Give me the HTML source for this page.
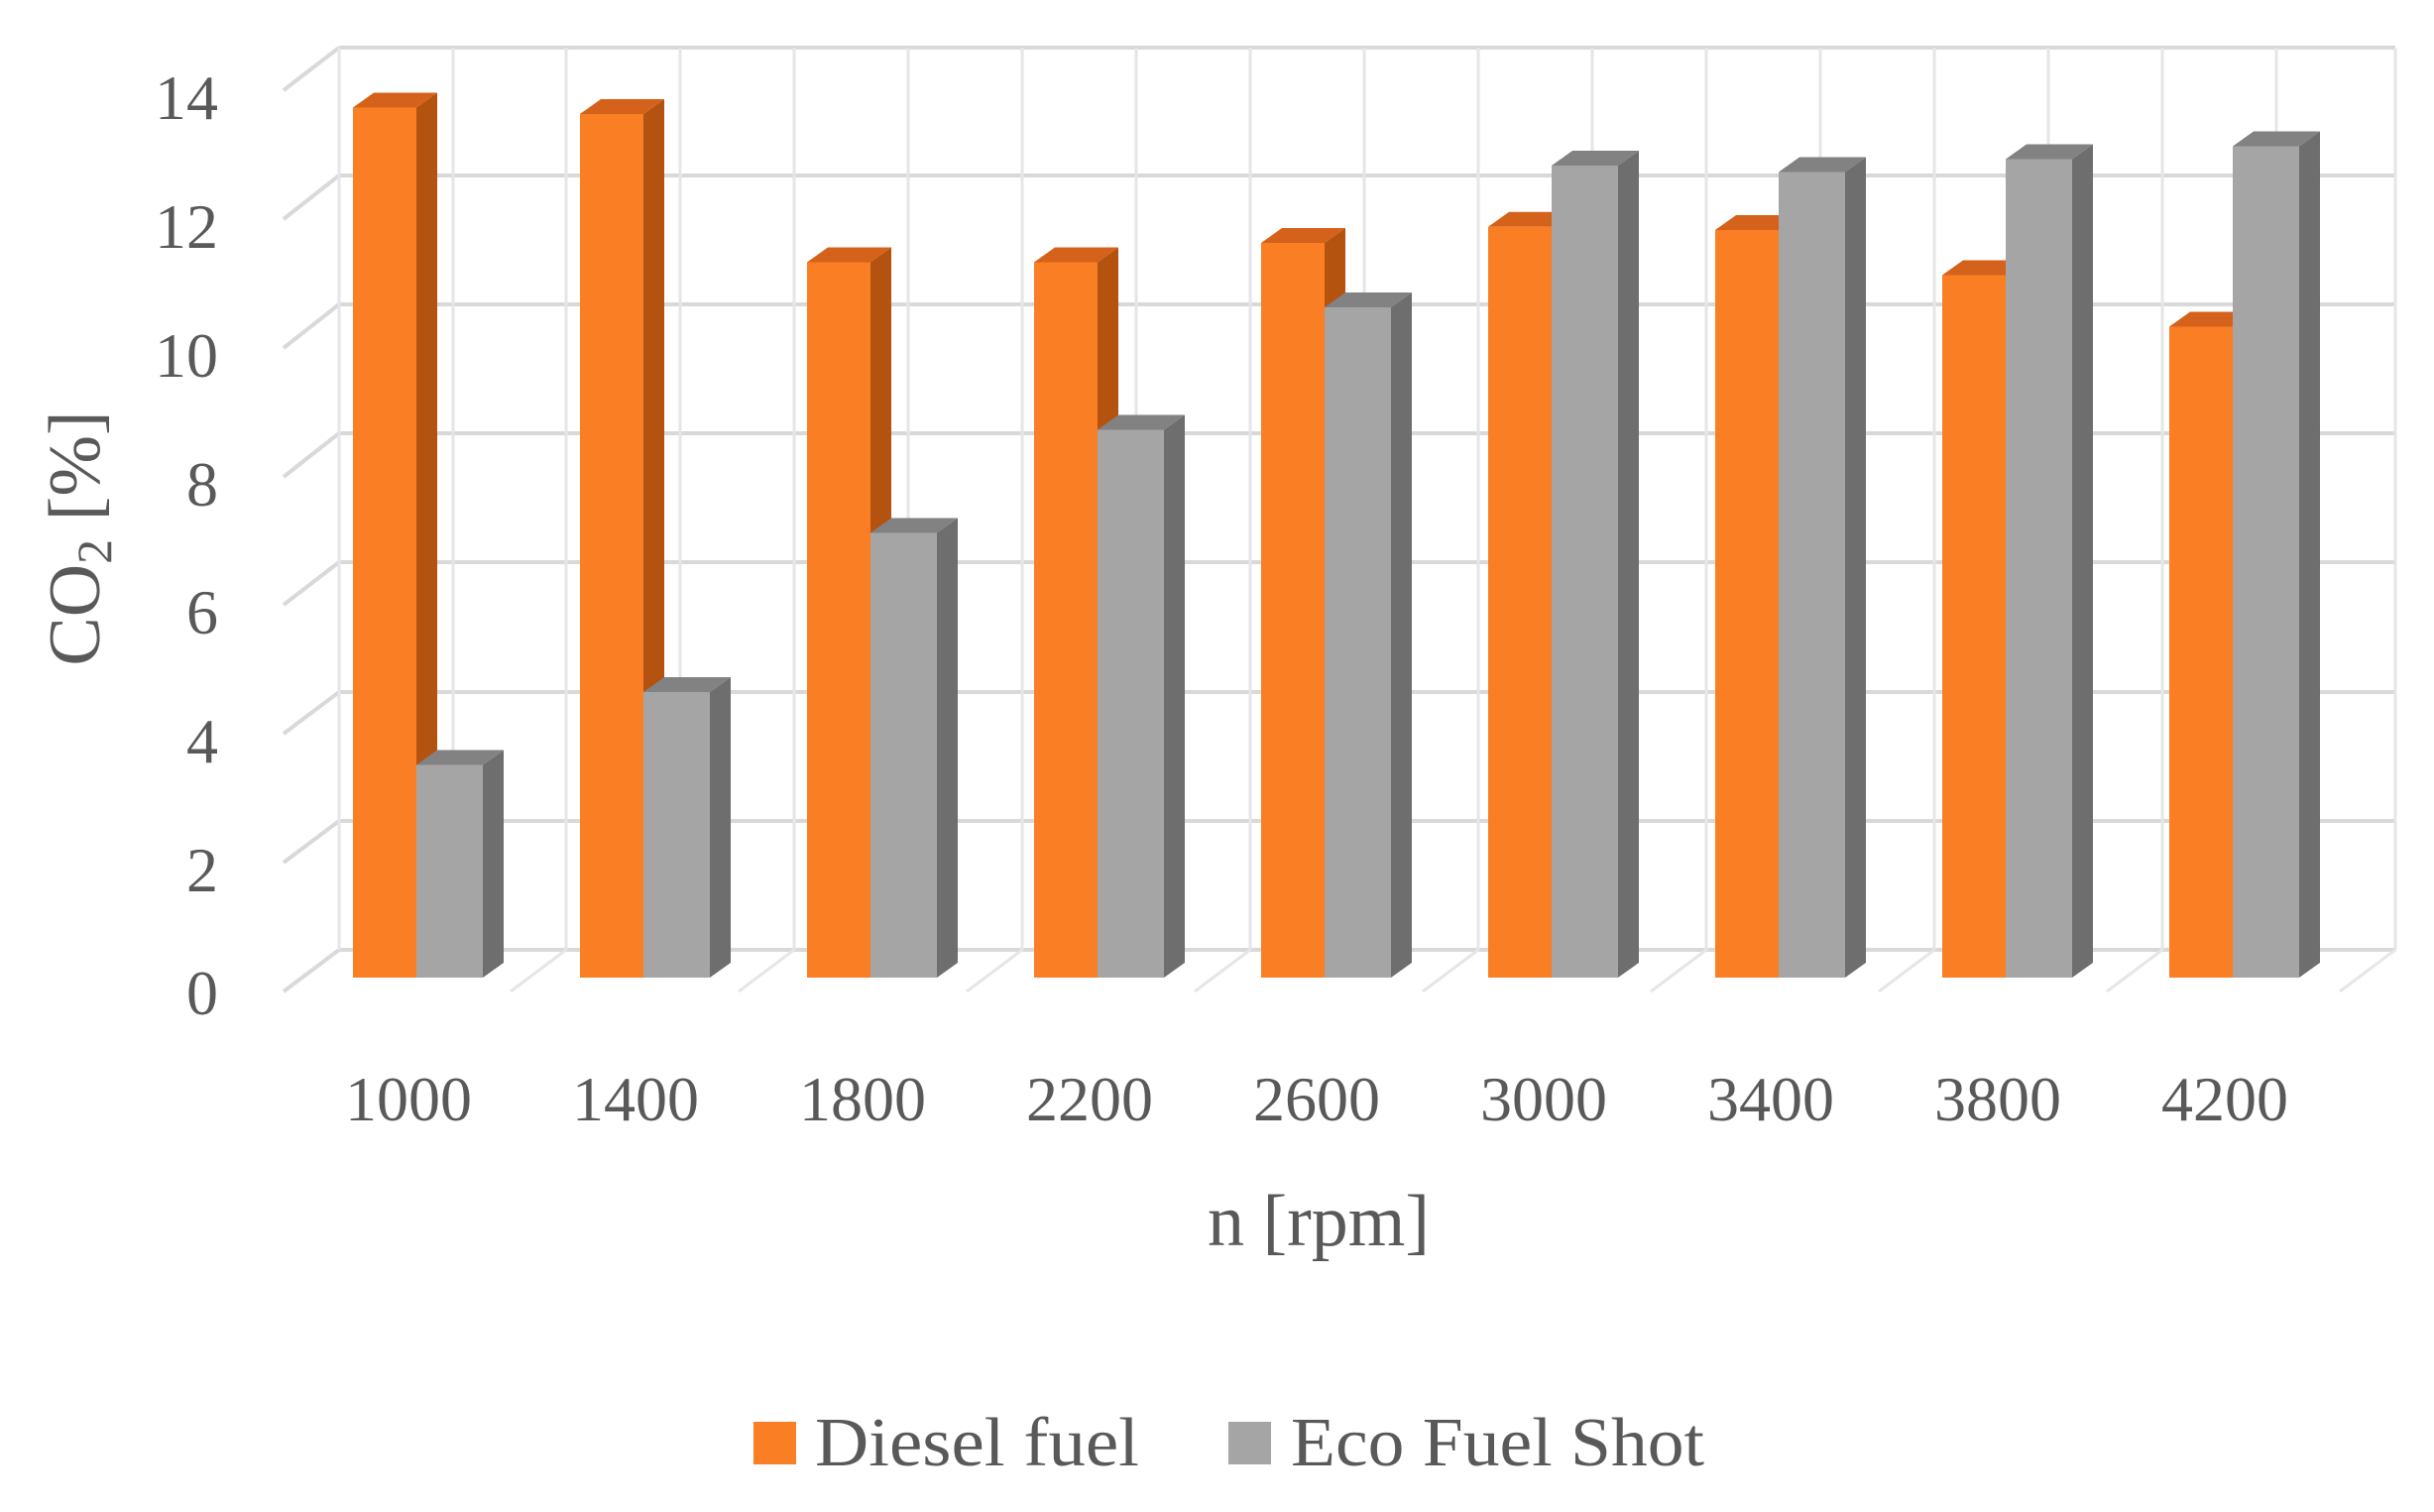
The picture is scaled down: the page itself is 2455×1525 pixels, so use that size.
<!DOCTYPE html>
<html><head><meta charset="utf-8"><style>html,body{margin:0;padding:0;background:#fff}</style></head>
<body>
<svg width="2455" height="1520" viewBox="0 0 2455 1520" xmlns="http://www.w3.org/2000/svg">
<rect width="2455" height="1520" fill="#fff"/>
<g stroke="#D9D9D9" stroke-width="4" fill="none">
<line x1="342" y1="48" x2="2416" y2="48"/>
<line x1="342" y1="177" x2="2416" y2="177"/>
<line x1="342" y1="307" x2="2416" y2="307"/>
<line x1="342" y1="437" x2="2416" y2="437"/>
<line x1="342" y1="567" x2="2416" y2="567"/>
<line x1="342" y1="698" x2="2416" y2="698"/>
<line x1="342" y1="828" x2="2416" y2="828"/>
<line x1="342" y1="958" x2="2416" y2="958"/>
<line x1="286" y1="91" x2="342" y2="48"/>
<line x1="286" y1="221" x2="342" y2="177"/>
<line x1="286" y1="351" x2="342" y2="307"/>
<line x1="286" y1="481" x2="342" y2="437"/>
<line x1="286" y1="610" x2="342" y2="567"/>
<line x1="286" y1="740" x2="342" y2="698"/>
<line x1="286" y1="870" x2="342" y2="828"/>
<line x1="286" y1="1000" x2="342" y2="958"/>
</g>
<g stroke="#E6E6E6" stroke-width="3" fill="none">
<line x1="342" y1="48" x2="342" y2="958"/>
<line x1="457" y1="48" x2="457" y2="958"/>
<line x1="571" y1="48" x2="571" y2="958"/>
<line x1="686" y1="48" x2="686" y2="958"/>
<line x1="801" y1="48" x2="801" y2="958"/>
<line x1="916" y1="48" x2="916" y2="958"/>
<line x1="1031" y1="48" x2="1031" y2="958"/>
<line x1="1146" y1="48" x2="1146" y2="958"/>
<line x1="1261" y1="48" x2="1261" y2="958"/>
<line x1="1376" y1="48" x2="1376" y2="958"/>
<line x1="1491" y1="48" x2="1491" y2="958"/>
<line x1="1606" y1="48" x2="1606" y2="958"/>
<line x1="1721" y1="48" x2="1721" y2="958"/>
<line x1="1836" y1="48" x2="1836" y2="958"/>
<line x1="1951" y1="48" x2="1951" y2="958"/>
<line x1="2066" y1="48" x2="2066" y2="958"/>
<line x1="2181" y1="48" x2="2181" y2="958"/>
<line x1="2296" y1="48" x2="2296" y2="958"/>
<line x1="2416" y1="48" x2="2416" y2="958"/>
<line x1="571" y1="958" x2="515" y2="1000"/>
<line x1="801" y1="958" x2="745" y2="1000"/>
<line x1="1031" y1="958" x2="975" y2="1000"/>
<line x1="1261" y1="958" x2="1205" y2="1000"/>
<line x1="1491" y1="958" x2="1435" y2="1000"/>
<line x1="1721" y1="958" x2="1665" y2="1000"/>
<line x1="1951" y1="958" x2="1895" y2="1000"/>
<line x1="2181" y1="958" x2="2125" y2="1000"/>
<line x1="2416" y1="958" x2="2360" y2="1000"/>
</g>

<g transform="translate(356,0)">
<polygon points="64,108.5 85,93.5 85,971 64,986" fill="#B4520F"/><polygon points="0,108.5 21,93.5 85,93.5 64,108.5" fill="#D5621A"/><rect x="0" y="108.5" width="64" height="877.5" fill="#F97E24"/>
<polygon points="131,771.5 152,756.5 152,971 131,986" fill="#6E6E6E"/><polygon points="64,771.5 85,756.5 152,756.5 131,771.5" fill="#828282"/><rect x="64" y="771.5" width="67" height="214.5" fill="#A5A5A5"/>
</g>
<g transform="translate(585,0)">
<polygon points="64,115 85,100 85,971 64,986" fill="#B4520F"/><polygon points="0,115 21,100 85,100 64,115" fill="#D5621A"/><rect x="0" y="115" width="64" height="871" fill="#F97E24"/>
<polygon points="131,698 152,683 152,971 131,986" fill="#6E6E6E"/><polygon points="64,698 85,683 152,683 131,698" fill="#828282"/><rect x="64" y="698" width="67" height="288" fill="#A5A5A5"/>
</g>
<g transform="translate(814,0)">
<polygon points="64,264.5 85,249.5 85,971 64,986" fill="#B4520F"/><polygon points="0,264.5 21,249.5 85,249.5 64,264.5" fill="#D5621A"/><rect x="0" y="264.5" width="64" height="721.5" fill="#F97E24"/>
<polygon points="131,537.5 152,522.5 152,971 131,986" fill="#6E6E6E"/><polygon points="64,537.5 85,522.5 152,522.5 131,537.5" fill="#828282"/><rect x="64" y="537.5" width="67" height="448.5" fill="#A5A5A5"/>
</g>
<g transform="translate(1043,0)">
<polygon points="64,264.5 85,249.5 85,971 64,986" fill="#B4520F"/><polygon points="0,264.5 21,249.5 85,249.5 64,264.5" fill="#D5621A"/><rect x="0" y="264.5" width="64" height="721.5" fill="#F97E24"/>
<polygon points="131,433.5 152,418.5 152,971 131,986" fill="#6E6E6E"/><polygon points="64,433.5 85,418.5 152,418.5 131,433.5" fill="#828282"/><rect x="64" y="433.5" width="67" height="552.5" fill="#A5A5A5"/>
</g>
<g transform="translate(1272,0)">
<polygon points="64,245 85,230 85,971 64,986" fill="#B4520F"/><polygon points="0,245 21,230 85,230 64,245" fill="#D5621A"/><rect x="0" y="245" width="64" height="741" fill="#F97E24"/>
<polygon points="131,310 152,295 152,971 131,986" fill="#6E6E6E"/><polygon points="64,310 85,295 152,295 131,310" fill="#828282"/><rect x="64" y="310" width="67" height="676" fill="#A5A5A5"/>
</g>
<g transform="translate(1501,0)">
<polygon points="64,228.75 85,213.75 85,971 64,986" fill="#B4520F"/><polygon points="0,228.75 21,213.75 85,213.75 64,228.75" fill="#D5621A"/><rect x="0" y="228.75" width="64" height="757.25" fill="#F97E24"/>
<polygon points="131,167 152,152 152,971 131,986" fill="#6E6E6E"/><polygon points="64,167 85,152 152,152 131,167" fill="#828282"/><rect x="64" y="167" width="67" height="819" fill="#A5A5A5"/>
</g>
<g transform="translate(1730,0)">
<polygon points="64,232 85,217 85,971 64,986" fill="#B4520F"/><polygon points="0,232 21,217 85,217 64,232" fill="#D5621A"/><rect x="0" y="232" width="64" height="754" fill="#F97E24"/>
<polygon points="131,173.5 152,158.5 152,971 131,986" fill="#6E6E6E"/><polygon points="64,173.5 85,158.5 152,158.5 131,173.5" fill="#828282"/><rect x="64" y="173.5" width="67" height="812.5" fill="#A5A5A5"/>
</g>
<g transform="translate(1959,0)">
<polygon points="64,277.5 85,262.5 85,971 64,986" fill="#B4520F"/><polygon points="0,277.5 21,262.5 85,262.5 64,277.5" fill="#D5621A"/><rect x="0" y="277.5" width="64" height="708.5" fill="#F97E24"/>
<polygon points="131,160.5 152,145.5 152,971 131,986" fill="#6E6E6E"/><polygon points="64,160.5 85,145.5 152,145.5 131,160.5" fill="#828282"/><rect x="64" y="160.5" width="67" height="825.5" fill="#A5A5A5"/>
</g>
<g transform="translate(2188,0)">
<polygon points="64,329.5 85,314.5 85,971 64,986" fill="#B4520F"/><polygon points="0,329.5 21,314.5 85,314.5 64,329.5" fill="#D5621A"/><rect x="0" y="329.5" width="64" height="656.5" fill="#F97E24"/>
<polygon points="131,147.5 152,132.5 152,971 131,986" fill="#6E6E6E"/><polygon points="64,147.5 85,132.5 152,132.5 131,147.5" fill="#828282"/><rect x="64" y="147.5" width="67" height="838.5" fill="#A5A5A5"/>
</g>

<g font-family="'Liberation Serif', serif" fill="#595959" font-size="64" text-anchor="end">
<text x="220" y="120">14</text>
<text x="220" y="250">12</text>
<text x="220" y="380">10</text>
<text x="220" y="510">8</text>
<text x="220" y="639">6</text>
<text x="220" y="769">4</text>
<text x="220" y="899">2</text>
<text x="220" y="1023">0</text>
</g>
<g font-family="'Liberation Serif', serif" fill="#595959" font-size="64" text-anchor="middle">
<text x="412" y="1130">1000</text>
<text x="641" y="1130">1400</text>
<text x="870" y="1130">1800</text>
<text x="1099" y="1130">2200</text>
<text x="1328" y="1130">2600</text>
<text x="1557" y="1130">3000</text>
<text x="1786" y="1130">3400</text>
<text x="2015" y="1130">3800</text>
<text x="2244" y="1130">4200</text>
<text x="1330" y="1256" font-size="74">n [rpm]</text>
<text transform="translate(100,543) rotate(-90)" font-size="74">CO<tspan font-size="50" dy="12">2</tspan><tspan dy="-12"> [%]</tspan></text>
</g>
<g font-family="'Liberation Serif', serif" fill="#595959" font-size="70">
<rect x="760" y="1434" width="43" height="43" fill="#F97E24"/>
<text x="822" y="1478" textLength="327" lengthAdjust="spacingAndGlyphs">Diesel fuel</text>
<rect x="1239" y="1434" width="43" height="43" fill="#A5A5A5"/>
<text x="1302" y="1478" textLength="417" lengthAdjust="spacingAndGlyphs">Eco Fuel Shot</text>
</g>
</svg>
</body></html>
